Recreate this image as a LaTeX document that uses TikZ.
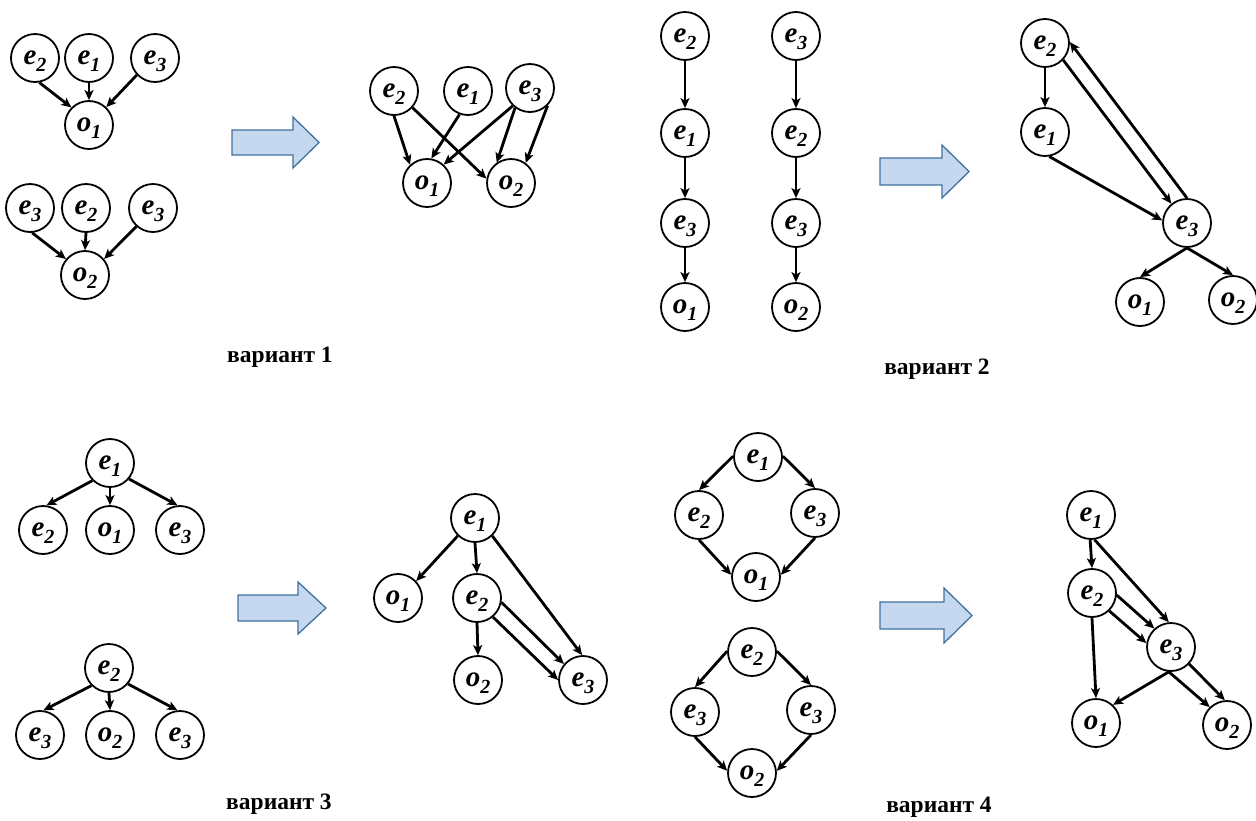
\documentclass[tikz,border=0pt]{standalone}
\usepackage{fontspec}
\setmainfont{Liberation Serif}
\usetikzlibrary{arrows.meta}
\definecolor{arrowfill}{RGB}{198,216,240}
\definecolor{arrowedge}{RGB}{65,113,156}
% vertex label: bold italic letter with a lowered index (the index does not enlarge the box)
\newcommand\vl[2]{{\fontsize{29}{29}\selectfont\bfseries\itshape\raisebox{1.5pt}{#1\raisebox{-7pt}[0pt][0pt]{\fontsize{20}{20}\selectfont #2}}}}
\tikzset{
  vx/.style={circle, draw, line width=1.8pt, minimum size=48pt, inner sep=0pt, fill=white},
  ed/.style={line width=2.8pt, -{Stealth[length=10pt,width=9pt,inset=2.5pt]}},
  blockarr/.style={fill=arrowfill, draw=arrowedge, line width=1.3pt, line join=miter},
  vlabel/.style={font=\fontsize{23.5}{24}\selectfont\bfseries, inner sep=0pt}
}
\begin{document}
\begin{tikzpicture}[x=1pt,y=-1pt]
\useasboundingbox (0,0) rectangle (1256,820);
\fill[white] (0,0) rectangle (1256,820);

% ---------- variant 1 ----------
\node[vx] (a12) at (35,58) {\vl{e}{2}};
\node[vx] (a11) at (89,58) {\vl{e}{1}};
\node[vx] (a13) at (155,58) {\vl{e}{3}};
\node[vx] (a1o) at (89,125) {\vl{o}{1}};
\draw[ed] (a12.-80) -- (a1o.135);
\draw[ed] (a11.south) -- (a1o.north);
\draw[ed] (a13.-137) -- (a1o.46);

\node[vx] (b13) at (30,208) {\vl{e}{3}};
\node[vx] (b12) at (86,208) {\vl{e}{2}};
\node[vx] (b13b) at (153,208) {\vl{e}{3}};
\node[vx] (b1o) at (85,275) {\vl{o}{2}};
\draw[ed] (b13.-85) -- (b1o.140);
\draw[ed] (b12.south) -- (b1o.north);
\draw[ed] (b13b.-132) -- (b1o.40);

\draw[blockarr] (232,130) -- (293,130) -- (293,117) -- (319,142.5) -- (293,168) -- (293,155) -- (232,155) -- cycle;

\node[vx] (r12) at (394,91) {\vl{e}{2}};
\node[vx] (r11) at (468,91) {\vl{e}{1}};
\node[vx] (r13) at (530,88) {\vl{e}{3}};
\node[vx] (r1o1) at (427,183) {\vl{o}{1}};
\node[vx] (r1o2) at (511,183) {\vl{o}{2}};
\draw[ed] (r12.-90) -- (r1o1.133);
\draw[ed] (r12.-42) -- (r1o2.170);
\draw[ed] (r11.-110) -- (r1o1.80);
\draw[ed] (r13.-134) -- (r1o1.48);
\draw[ed] (r13.-127) -- (r1o2.125);
\draw[ed] (r13.-45) -- (r1o2.54);

\node[vlabel] (lab1) at (280,357) {вариант 1};

% ---------- variant 2 ----------
\node[vx] (p2a) at (685,36) {\vl{e}{2}};
\node[vx] (p2b) at (685,133) {\vl{e}{1}};
\node[vx] (p2c) at (685,223) {\vl{e}{3}};
\node[vx] (p2d) at (685,307) {\vl{o}{1}};
\draw[ed] (p2a.south) -- (p2b.north);
\draw[ed] (p2b.south) -- (p2c.north);
\draw[ed] (p2c.south) -- (p2d.north);

\node[vx] (q2a) at (796,36) {\vl{e}{3}};
\node[vx] (q2b) at (796,133) {\vl{e}{2}};
\node[vx] (q2c) at (796,223) {\vl{e}{3}};
\node[vx] (q2d) at (796,307) {\vl{o}{2}};
\draw[ed] (q2a.south) -- (q2b.north);
\draw[ed] (q2b.south) -- (q2c.north);
\draw[ed] (q2c.south) -- (q2d.north);

\draw[blockarr] (880,158) -- (942,158) -- (942,145) -- (969,171.5) -- (942,198) -- (942,185) -- (880,185) -- cycle;

\node[vx] (r22) at (1045,43) {\vl{e}{2}};
\node[vx] (r21) at (1045,132) {\vl{e}{1}};
\node[vx] (r23) at (1187,223) {\vl{e}{3}};
\node[vx] (r2o1) at (1140,302) {\vl{o}{1}};
\node[vx] (r2o2) at (1233,300) {\vl{o}{2}};
\draw[ed] (r22.south) -- (r21.north);
\draw[ed] (r21.-80) -- (r23.174);
\draw[ed] (r22.-43) -- (r23.129);
\draw[ed] (r23.90) -- (r22.2);
\draw[ed] (r23.-90) -- (r2o1.90);
\draw[ed] (r23.-90) -- (r2o2.90);

\node[vlabel] (lab2) at (937,369) {вариант 2};

% ---------- variant 3 ----------
\node[vx] (s31) at (110,463) {\vl{e}{1}};
\node[vx] (s32) at (43,530) {\vl{e}{2}};
\node[vx] (s3o) at (110,530) {\vl{o}{1}};
\node[vx] (s33) at (180,530) {\vl{e}{3}};
\draw[ed] (s31.225) -- (s32.82);
\draw[ed] (s31.south) -- (s3o.north);
\draw[ed] (s31.-40) -- (s33.96);

\node[vx] (t32) at (109,668) {\vl{e}{2}};
\node[vx] (t33) at (40,735) {\vl{e}{3}};
\node[vx] (t3o) at (110,735) {\vl{o}{2}};
\node[vx] (t33b) at (180,735) {\vl{e}{3}};
\draw[ed] (t32.225) -- (t33.82);
\draw[ed] (t32.south) -- (t3o.north);
\draw[ed] (t32.-40) -- (t33b.96);

\draw[blockarr] (238,595) -- (298,595) -- (298,582) -- (326,608) -- (298,634) -- (298,621) -- (238,621) -- cycle;

\node[vx] (r31) at (475,518) {\vl{e}{1}};
\node[vx] (r3o1) at (398,598) {\vl{o}{1}};
\node[vx] (r32) at (477,598) {\vl{e}{2}};
\node[vx] (r3o2) at (478,680) {\vl{o}{2}};
\node[vx] (r33) at (583,680) {\vl{e}{3}};
\draw[ed] (r31.226) -- (r3o1.43);
\draw[ed] (r31.south) -- (r32.north);
\draw[ed] (r31.-46) -- (r33.92);
\draw[ed] (r32.south) -- (r3o2.north);
\draw[ed] (r32.-10) -- (r33.140);
\draw[ed] (r32.-50) -- (r33.180);

\node[vlabel] (lab3) at (279,804) {вариант 3};

% ---------- variant 4 ----------
\node[vx] (u41) at (758,457) {\vl{e}{1}};
\node[vx] (u42) at (699,515) {\vl{e}{2}};
\node[vx] (u43) at (815,513) {\vl{e}{3}};
\node[vx] (u4o) at (756,577) {\vl{o}{1}};
\draw[ed] (u41.178) -- (u42.90);
\draw[ed] (u41.2) -- (u43.90);
\draw[ed] (u42.-90) -- (u4o.175);
\draw[ed] (u43.-90) -- (u4o.5);

\node[vx] (v42) at (752,652) {\vl{e}{2}};
\node[vx] (v43) at (695,712) {\vl{e}{3}};
\node[vx] (v43b) at (811,710) {\vl{e}{3}};
\node[vx] (v4o) at (752,773) {\vl{o}{2}};
\draw[ed] (v42.178) -- (v43.90);
\draw[ed] (v42.2) -- (v43b.90);
\draw[ed] (v43.-90) -- (v4o.175);
\draw[ed] (v43b.-90) -- (v4o.5);

\draw[blockarr] (880,602) -- (944,602) -- (944,588) -- (972,615.5) -- (944,643) -- (944,629) -- (880,629) -- cycle;

\node[vx] (r41) at (1091,515) {\vl{e}{1}};
\node[vx] (r42) at (1092,593) {\vl{e}{2}};
\node[vx] (r43) at (1171,647) {\vl{e}{3}};
\node[vx] (r4o1) at (1096,723) {\vl{o}{1}};
\node[vx] (r4o2) at (1227,725) {\vl{o}{2}};
\draw[ed] (r41.-92) -- (r42.90);
\draw[ed] (r41.-82) -- (r43.95);
\draw[ed] (r42.-5) -- (r43.132);
\draw[ed] (r42.-46) -- (r43.171);
\draw[ed] (r42.-90) -- (r4o1.90);
\draw[ed] (r43.-95) -- (r4o1.47);
\draw[ed] (r43.-95) -- (r4o2.134);
\draw[ed] (r43.-43) -- (r4o2.95);

\node[vlabel] (lab4) at (939,807) {вариант 4};
\end{tikzpicture}
\end{document}
